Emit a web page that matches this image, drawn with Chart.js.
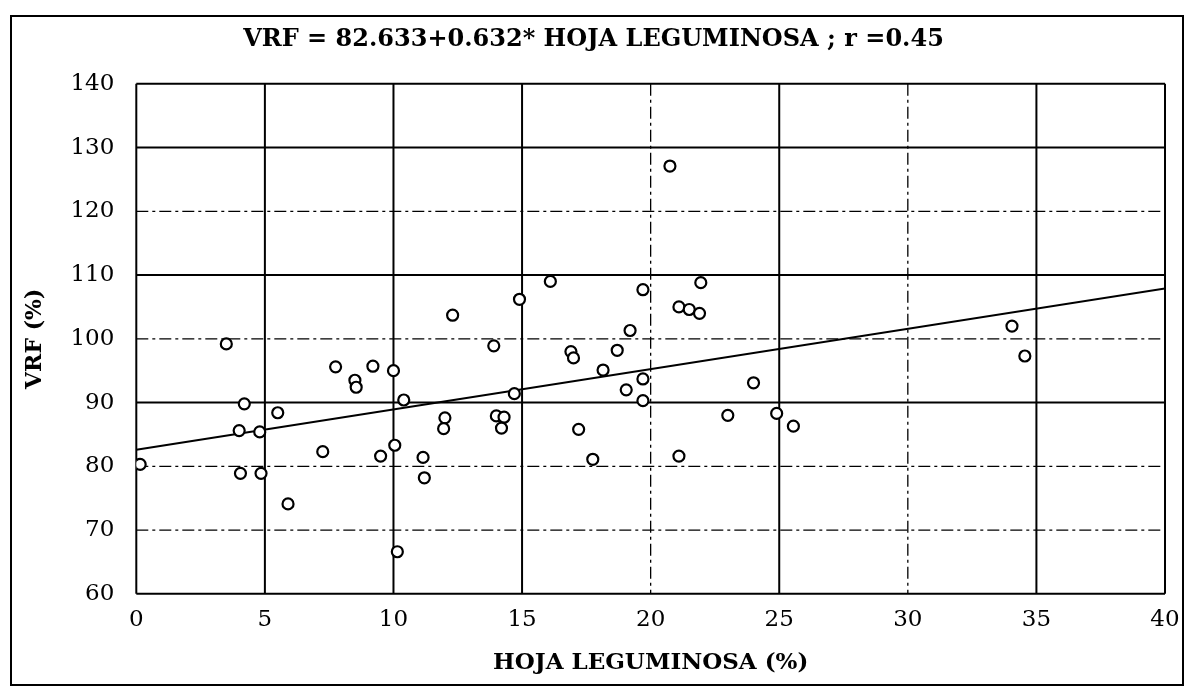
<!DOCTYPE html>
<html>
<head>
<meta charset="utf-8">
<script src="https://cdn.jsdelivr.net/npm/chart.js@4.4.1/dist/chart.umd.min.js"></script>
<style>
  html, body { margin: 0; padding: 0; background: #fff; }
  #wrap { position: relative; width: 1193px; height: 690px; }
  #frame { position: absolute; left: 10px; top: 15px; width: 1170px; height: 667px; border: 2px solid #000; pointer-events: none; }
  canvas { position: absolute; left: 0; top: 0; }
</style>
</head>
<body>
<div id="wrap">
  <canvas id="c" width="1193" height="690"></canvas>
  <div id="frame"></div>
</div>
<script>
// ---- data ----
const hojaLeguminosa = [0.15,3.5,4.2,4.0,4.8,4.05,4.85,5.5,5.9,7.25,7.75,8.5,8.55,9.2,9.5,10.0,10.05,10.4,10.15,11.15,11.2,12.0,11.95,12.3,13.9,14.0,14.3,14.2,14.7,14.9,16.1,16.9,17.0,17.2,17.75,18.15,18.7,19.2,19.05,19.7,19.7,19.7,20.75,21.95,21.1,21.5,21.9,24.0,23.0,24.9,25.55,21.1,34.05,34.55];
const vrf = [80.3,99.2,89.8,85.6,85.4,78.9,78.9,88.4,74.1,82.3,95.6,93.5,92.4,95.7,81.6,95.0,83.3,90.4,66.6,81.4,78.2,87.6,85.9,103.7,98.9,87.9,87.7,86.0,91.4,106.2,109.0,98.0,97.0,85.8,81.1,95.1,98.2,101.3,92.0,93.7,90.3,107.7,127.1,108.8,105.0,104.6,104.0,93.1,88.0,88.3,86.3,81.6,102.0,97.3];
const fitX = [0, 40];
const fitY = [82.6, 107.9];
const xTicks = [0,5,10,15,20,25,30,35,40];
const yTicks = [60,70,80,90,100,110,120,130,140];
const titleText = 'VRF = 82.633+0.632* HOJA LEGUMINOSA ; r =0.45';
const xTitle = 'HOJA LEGUMINOSA (%)';
const yTitle = 'VRF (%)';

// ---- styling (kept separate from data) ----
const dashedX = [20, 30];
const dashedY = [70, 80, 100, 120];
const DASH = [12, 4, 3, 4];

const scatterPts = hojaLeguminosa.map((x, i) => ({ x: x, y: vrf[i] }));
const fitPts = fitX.map((x, i) => ({ x: x, y: fitY[i] }));

const gridPlugin = {
  id: 'customGrid',
  beforeDatasetsDraw(chart) {
    const { ctx, chartArea: a, scales: { x, y } } = chart;
    ctx.save();
    ctx.strokeStyle = '#000';
    xTicks.forEach(v => {
      const px = x.getPixelForValue(v);
      const dashed = dashedX.includes(v);
      ctx.setLineDash(dashed ? DASH : []);
      ctx.lineWidth = dashed ? 1.3 : 2;
      ctx.beginPath(); ctx.moveTo(px, a.top); ctx.lineTo(px, a.bottom); ctx.stroke();
    });
    yTicks.forEach(v => {
      const py = y.getPixelForValue(v);
      const dashed = dashedY.includes(v);
      ctx.setLineDash(dashed ? DASH : []);
      ctx.lineWidth = dashed ? 1.3 : 2;
      ctx.beginPath(); ctx.moveTo(a.left, py); ctx.lineTo(a.right, py); ctx.stroke();
    });
    ctx.restore();
  }
};

new Chart(document.getElementById('c'), {
  type: 'scatter',
  data: {
    datasets: [
      {
        type: 'line',
        data: fitPts,
        borderColor: '#000',
        borderWidth: 2,
        pointRadius: 0,
        fill: false,
        order: 2
      },
      {
        type: 'scatter',
        data: scatterPts,
        pointStyle: 'circle',
        pointRadius: 5.5,
        pointBorderWidth: 2.2,
        pointBorderColor: '#000',
        pointBackgroundColor: '#fff',
        order: 1
      }
    ]
  },
  options: {
    responsive: false,
    animation: false,
    devicePixelRatio: 1,
    layout: { padding: { left: 22, right: 28, top: 25, bottom: 13 } },
    plugins: {
      legend: { display: false },
      tooltip: { enabled: false },
      title: {
        display: true,
        text: titleText,
        color: '#000',
        font: { family: 'DejaVu Serif', size: 24, weight: 'bold' },
        padding: { top: 0, bottom: 30 }
      }
    },
    scales: {
      x: {
        type: 'linear',
        min: 0, max: 40,
        afterBuildTicks: s => { s.ticks = xTicks.map(v => ({ value: v })); },
        grid: { display: false },
        border: { display: false },
        ticks: { color: '#000', font: { family: 'DejaVu Serif', size: 23 }, padding: 4, maxRotation: 0 },
        title: { display: true, text: xTitle, color: '#000', font: { family: 'DejaVu Serif', size: 23, weight: 'bold' }, padding: { top: 12, bottom: 0 } }
      },
      y: {
        type: 'linear',
        min: 60, max: 140,
        afterBuildTicks: s => { s.ticks = yTicks.map(v => ({ value: v })); },
        grid: { display: false },
        border: { display: false },
        ticks: { color: '#000', font: { family: 'DejaVu Serif', size: 23 }, padding: 14 },
        title: { display: true, text: yTitle, color: '#000', font: { family: 'DejaVu Serif', size: 22, weight: 'bold' }, padding: { top: 0, bottom: 8 } }
      }
    }
  },
  plugins: [gridPlugin]
});
</script>
</body>
</html>
